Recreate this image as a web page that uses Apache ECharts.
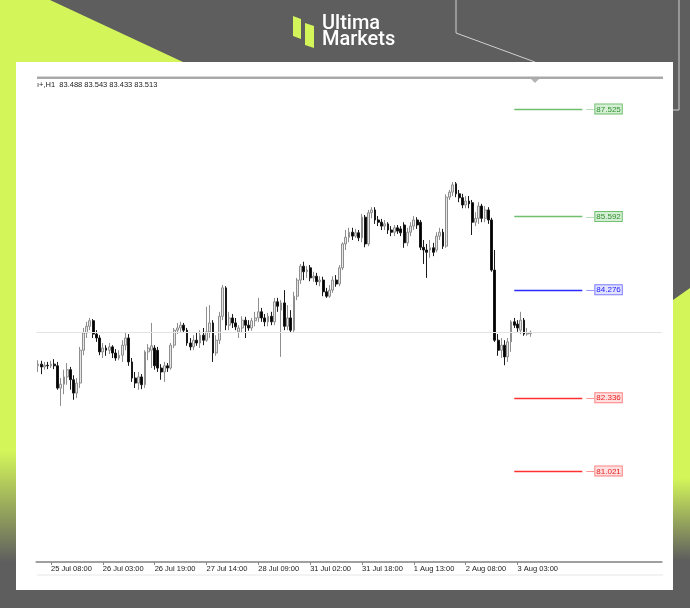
<!DOCTYPE html>
<html>
<head>
<meta charset="utf-8">
<script src="https://cdn.jsdelivr.net/npm/echarts@6/dist/echarts.min.js"></script>
<style>html,body{margin:0;padding:0;background:#5e5e5e;}#c{width:690px;height:608px;}</style>
</head>
<body>
<div id="c"></div>
<script>
// ---- data (hourly bars) ----
const openV = [
82.91,82.94,82.89,82.92,82.91,82.94,82.91,82.51,82.58,82.71,
82.84,82.66,82.42,82.60,83.19,83.50,83.62,83.72,83.48,83.41,
83.16,83.23,83.19,83.25,83.14,83.05,83.10,83.28,83.41,82.98,
82.69,82.60,82.71,82.57,83.16,83.19,83.23,83.19,82.87,82.80,
82.91,82.87,83.28,83.55,83.59,83.64,83.55,83.32,83.25,83.37,
83.32,83.46,83.37,83.52,83.68,83.14,83.37,83.80,84.31,83.64,
83.77,83.68,83.52,83.59,83.73,83.64,83.59,83.72,83.77,83.88,
83.77,83.70,83.80,83.70,84.06,83.91,84.04,83.62,83.77,83.55,
84.16,84.45,84.70,84.60,84.67,84.49,84.52,84.42,84.45,84.24,
84.16,84.27,84.45,84.38,84.67,85.10,85.22,85.31,85.24,85.30,
85.21,85.58,85.10,85.66,85.71,85.53,85.49,85.42,85.46,85.35,
85.31,85.39,85.37,85.44,85.12,85.31,85.42,85.53,85.49,85.04,
84.99,84.99,85.03,84.99,85.24,85.31,85.06,85.94,86.03,86.18,
86.00,85.93,85.80,85.87,85.84,85.49,85.56,85.78,85.56,85.71,
85.53,84.63,83.37,83.19,83.28,83.07,83.34,83.70,83.66,83.55,
83.73,83.48,83.488];
const closeV = [
82.94,82.89,82.92,82.91,82.94,82.91,82.51,82.58,82.71,82.84,
82.66,82.42,82.60,83.19,83.50,83.62,83.72,83.48,83.41,83.16,
83.23,83.19,83.25,83.14,83.05,83.10,83.28,83.41,82.98,82.69,
82.60,82.71,82.57,83.16,83.23,83.27,82.91,82.87,82.80,82.91,
82.87,83.28,83.55,83.59,83.64,83.55,83.32,83.25,83.37,83.32,
83.46,83.37,83.52,83.68,83.14,83.37,83.80,84.31,83.64,83.77,
83.68,83.61,83.59,83.73,83.64,83.59,83.72,83.77,83.88,83.77,
83.70,83.80,83.70,84.06,83.98,84.04,83.62,83.77,83.55,84.16,
84.45,84.70,84.60,84.63,84.49,84.52,84.42,84.45,84.24,84.16,
84.27,84.45,84.38,84.67,85.10,85.22,85.31,85.24,85.30,85.21,
85.58,85.10,85.66,85.71,85.53,85.49,85.42,85.46,85.35,85.31,
85.39,85.33,85.30,85.12,85.31,85.42,85.53,85.44,85.04,84.99,
84.95,85.03,84.95,85.24,85.31,85.06,85.94,86.03,86.16,86.00,
85.93,85.80,85.87,85.82,85.49,85.56,85.78,85.56,85.71,85.53,
84.63,83.37,83.19,83.28,83.07,83.34,83.70,83.64,83.59,83.73,
83.48,83.50,83.513];
const lowV = [
82.80,82.76,82.84,82.85,82.87,82.85,82.48,82.19,82.40,82.57,
82.48,82.30,82.33,82.51,83.10,83.41,83.55,83.41,83.34,83.10,
83.05,83.09,83.12,83.05,83.00,83.01,82.98,83.19,82.91,82.62,
82.51,82.48,82.49,82.51,83.01,82.87,82.84,82.80,82.66,82.62,
82.80,82.84,83.23,83.48,83.52,83.50,83.27,83.19,83.19,83.27,
83.23,83.28,83.34,83.41,82.98,83.09,83.30,83.73,83.55,83.55,
83.59,83.55,83.41,83.50,83.41,83.54,83.54,83.62,83.70,83.70,
83.62,83.62,83.64,83.64,83.88,83.07,83.55,83.55,83.50,83.52,
84.09,84.38,84.45,84.49,84.43,84.42,84.36,84.34,84.16,84.13,
84.13,84.22,84.33,84.34,84.63,84.99,85.13,85.17,85.21,85.15,
85.13,85.04,85.06,85.56,85.46,85.42,85.35,85.35,85.28,85.24,
85.24,85.28,85.24,85.03,85.06,85.24,85.35,85.37,84.99,84.74,
84.49,84.85,84.88,84.95,85.17,85.01,85.03,85.89,85.96,85.94,
85.85,85.74,85.74,85.74,85.26,85.42,85.46,85.49,85.49,85.46,
84.60,83.34,83.09,83.05,82.92,82.98,83.16,83.59,83.52,83.48,
83.45,83.45,83.433];
const highV = [
83.01,83.00,82.98,82.98,83.00,83.03,82.98,82.69,82.84,82.96,
82.89,82.74,82.69,83.25,83.59,83.70,83.77,83.75,83.55,83.46,
83.32,83.28,83.32,83.28,83.21,83.19,83.37,83.50,83.48,83.05,
82.80,82.80,82.76,83.19,83.30,83.68,83.28,83.25,82.94,82.98,
82.96,83.32,83.59,83.68,83.70,83.68,83.59,83.41,83.46,83.50,
83.55,83.59,83.97,84.00,83.73,83.46,83.88,84.36,84.34,83.88,
83.84,83.77,83.64,83.80,83.79,83.73,83.77,83.88,84.13,83.95,
83.84,83.86,83.88,84.13,84.13,84.09,84.27,84.00,83.91,84.24,
84.49,84.74,84.78,84.70,84.72,84.60,84.58,84.52,84.51,84.31,
84.36,84.52,84.54,84.72,85.13,85.35,85.39,85.39,85.37,85.35,
85.64,85.62,85.71,85.76,85.76,85.60,85.55,85.53,85.49,85.42,
85.44,85.44,85.42,85.49,85.39,85.49,85.60,85.58,85.53,85.17,
85.10,85.17,85.12,85.31,85.39,85.37,85.99,86.07,86.21,86.21,
86.07,86.00,85.96,85.96,85.89,85.67,85.85,85.82,85.78,85.76,
85.57,84.99,83.48,83.41,83.37,83.41,83.73,83.77,83.73,83.88,
83.77,83.59,83.543];

const tickLabels = ['25 Jul 08:00','26 Jul 03:00','26 Jul 19:00','27 Jul 14:00','28 Jul 09:00',
                    '31 Jul 02:00','31 Jul 18:00','1 Aug 13:00','2 Aug 08:00','3 Aug 03:00'];
const tickIndex = [4,20,36,52,68,84,100,116,132,148];

const levelValues = [87.525, 85.592, 84.276, 82.336, 81.021];
const levelKinds  = ['res','res','pivot','sup','sup'];
const lastPrice = 83.513;
const headerText = 'ı+,H1  83.488 83.543 83.433 83.513';

// ---- build ----
const N_SLOTS = 193; // chart width incl. empty right shift area
const categories = Array.from({length: N_SLOTS}, (_, i) => String(i));
const candles = openV.map((o, i) => [o, closeV[i], lowV[i], highV[i]]);

const styles = {
  res:   {line:'#6fbf6f', text:'#2f8f2f', bg:'#d4efd4', border:'#6fbf6f'},
  pivot: {line:'#2b2bff', text:'#1a1aff', bg:'#e2e2ff', border:'#7c7cff'},
  sup:   {line:'#ff3030', text:'#e61c1c', bg:'#ffe0e0', border:'#ff8080'}
};

const markData = [
  {yAxis: lastPrice, lineStyle:{color:'#e3e3e3', width:1, type:'solid'}, label:{show:false}}
];
levelValues.forEach((v, k) => {
  const s = styles[levelKinds[k]];
  markData.push([
    {coord:[147, v], lineStyle:{color:s.line, width:1.3, type:'solid'},
     label:{show:true, position:'end', distance:4,
       formatter:'{d|—}{b|' + v.toFixed(3) + '}',
       rich:{
         d:{fontSize:8, color:s.line, fontFamily:'Liberation Sans', padding:[0,1,0,0]},
         b:{fontSize:8, color:s.text, fontFamily:'Liberation Sans', backgroundColor:s.bg,
            borderColor:s.border, borderWidth:1, padding:[1,1,0,1]}
       }}},
    {coord:[168, v]}
  ]);
});

const lime = '#d3f55a';
const chart = echarts.init(document.getElementById('c'), null, {renderer:'canvas'});
chart.setOption({
  backgroundColor:'#5e5e5e',
  animation:false,
  graphic:[
    {type:'polygon', z:-20, shape:{points:[[0,0],[50,0],[183,62],[0,62]]}, style:{fill:lime}},
    {type:'rect', z:-20, shape:{x:0,y:62,width:16,height:500},
     style:{fill:new echarts.graphic.LinearGradient(0,0,0,1,[
       {offset:0,color:lime},{offset:0.78,color:lime},{offset:1,color:'#5e5e5e'}])}},
    {type:'polygon', z:-20, shape:{points:[[673,300],[690,288],[690,560],[673,560]]},
     style:{fill:new echarts.graphic.LinearGradient(0,0,0,1,[
       {offset:0,color:lime},{offset:0.7,color:lime},{offset:1,color:'#5e5e5e'}])}},
    {type:'polyline', z:-19, shape:{points:[[456,0],[456,33],[535,62]]}, style:{stroke:'#d0d0d0', lineWidth:1, fill:null}},
    {type:'polyline', z:-19, shape:{points:[[679,0],[679,110],[673,110]]}, style:{stroke:'#d0d0d0', lineWidth:1, fill:null}},
    // logo
    {type:'polygon', z:-18, shape:{points:[[293,16],[301,19],[301,39],[293,36]]}, style:{fill:lime}},
    {type:'polygon', z:-18, shape:{points:[[305,23],[314,26],[314,48],[305,45]]}, style:{fill:lime}},
    {type:'text', z:-18, x:322, y:24, style:{text:'Ultima', fill:'#ffffff', font:'500 20px Roboto', verticalAlign:'middle'}},
    {type:'text', z:-18, x:322, y:40, style:{text:'Markets', fill:'#ffffff', font:'500 20px Roboto', verticalAlign:'middle'}},
    // white panel
    {type:'rect', z:-15, shape:{x:16,y:62,width:657,height:528}, style:{fill:'#ffffff'}},
    {type:'rect', z:-14, shape:{x:37,y:76.5,width:626,height:2.5}, style:{fill:'#a9a9a9'}},
    {type:'polygon', z:-14, shape:{points:[[531,79],[539,79],[535,83]]}, style:{fill:'#b4b4b4'}},
    {type:'rect', z:-14, shape:{x:37,y:574.5,width:626,height:1}, style:{fill:'#e8e8e8'}},
    {type:'text', z:5, x:37, y:84.5, style:{text:headerText, fill:'#222', font:'7.5px "Liberation Sans"', verticalAlign:'middle'}}
  ],
  grid:{left:36.4, right:28.3, top:78, bottom:46, containLabel:false},
  xAxis:{
    type:'category', data:categories, boundaryGap:true,
    axisLine:{show:true, lineStyle:{color:'#a0a0a0', width:2}},
    axisTick:{show:true, alignWithLabel:true, length:3, interval:(i)=>tickIndex.includes(i), lineStyle:{color:'#888'}},
    axisLabel:{show:true, interval:(i)=>tickIndex.includes(i), align:'left', margin:3,
      fontSize:7.5, fontFamily:'Liberation Sans', color:'#222',
      formatter:(v, i)=>{const k = tickIndex.indexOf(i); return k >= 0 ? tickLabels[k] : '';}},
    splitLine:{show:false}
  },
  yAxis:{type:'value', min:79.385, max:88.081, show:false, splitLine:{show:false}},
  series:[{
    type:'candlestick',
    data:candles,
    barWidth:'72%',
    itemStyle:{color:'#e6e6e6', color0:'#000000', borderColor:'#8e8e8e', borderColor0:'#1a1a1a', borderWidth:1},
    markLine:{silent:true, symbol:['none','none'], animation:false, data:markData}
  }]
});
</script>
</body>
</html>
